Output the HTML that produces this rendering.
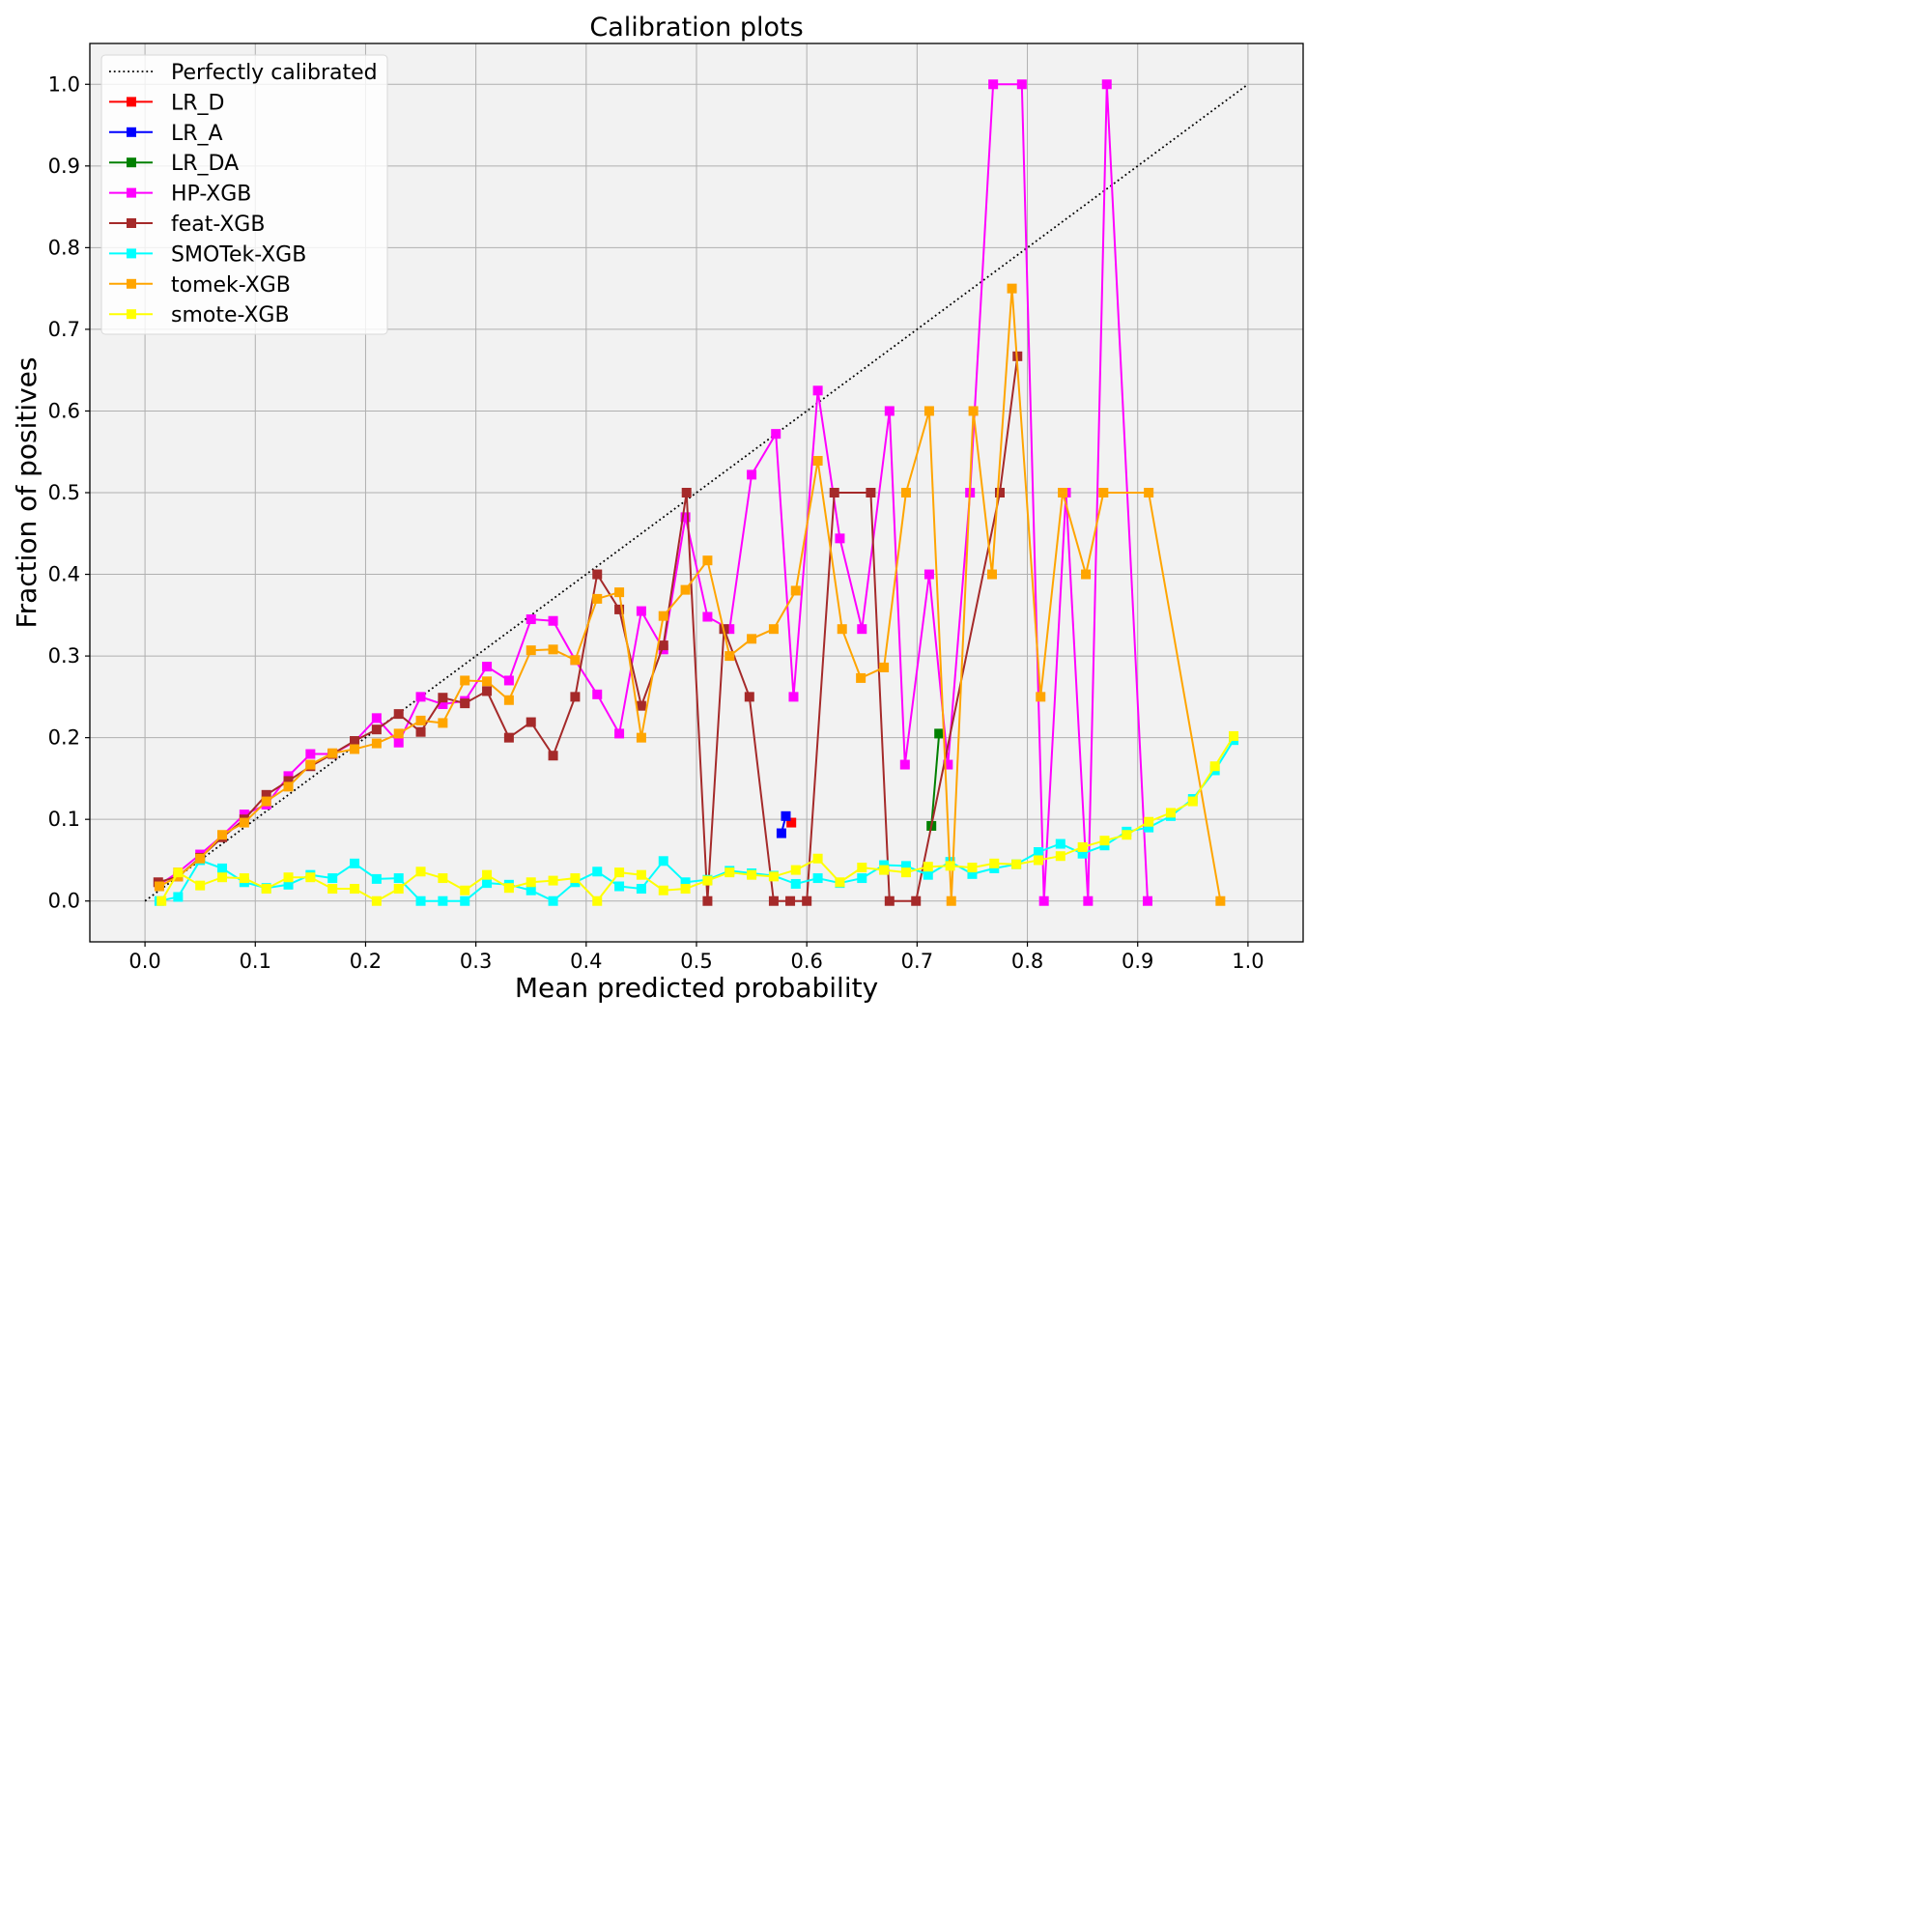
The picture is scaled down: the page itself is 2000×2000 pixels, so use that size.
<!DOCTYPE html>
<html><head><meta charset="utf-8"><style>
html,body{margin:0;padding:0;background:#fff;}
svg{display:block;font-family:"DejaVu Sans","Liberation Sans",sans-serif;}
</style></head><body>
<svg id="chart" width="2000" height="2000" viewBox="0 0 2000 2000" xmlns="http://www.w3.org/2000/svg">
<rect x="0" y="0" width="2000" height="2000" fill="#fff"/>
<rect x="93" y="45" width="1256" height="930" fill="#f2f2f2"/>
<g id="grid"></g>
<g id="series"></g>
<rect x="93" y="45" width="1256" height="930" fill="none" stroke="#000" stroke-width="1.3"/>
<g id="ticks"></g>
<text x="721" y="37" font-size="27" text-anchor="middle">Calibration plots</text>
<text x="721" y="1032" font-size="28" text-anchor="middle">Mean predicted probability</text>
<text x="37" y="510" font-size="28" text-anchor="middle" transform="rotate(-90 37 510)">Fraction of positives</text>
<g id="legend"></g>
</svg>
<script>
const xTicks = [0,0.1,0.2,0.3,0.4,0.5,0.6,0.7,0.8,0.9,1.0];
const yTicks = [0,0.1,0.2,0.3,0.4,0.5,0.6,0.7,0.8,0.9,1.0];
const lrdX = [0.586];
const lrdY = [0.096];
const lraX = [0.577,0.581];
const lraY = [0.083,0.104];
const lrdaX = [0.713,0.720];
const lrdaY = [0.092,0.205];
const hpX = [0.013,0.03,0.05,0.07,0.09,0.11,0.13,0.15,0.17,0.19,0.21,0.23,0.25,0.27,0.29,0.31,0.33,0.35,0.37,0.39,0.41,0.43,0.45,0.47,0.49,0.51,0.53,0.55,0.572,0.588,0.61,0.63,0.65,0.675,0.689,0.711,0.728,0.748,0.769,0.795,0.815,0.835,0.855,0.872,0.909];
const hpY = [0.02,0.035,0.057,0.08,0.106,0.118,0.153,0.18,0.18,0.195,0.224,0.194,0.25,0.241,0.245,0.287,0.27,0.345,0.343,0.295,0.253,0.205,0.355,0.308,0.47,0.348,0.333,0.522,0.572,0.25,0.625,0.444,0.333,0.6,0.167,0.4,0.167,0.5,1.0,1.0,0.0,0.5,0.0,1.0,0.0];
const featX = [0.012,0.03,0.05,0.07,0.09,0.11,0.13,0.15,0.17,0.19,0.21,0.23,0.25,0.27,0.29,0.31,0.33,0.35,0.37,0.39,0.41,0.43,0.45,0.47,0.491,0.51,0.525,0.548,0.57,0.585,0.6,0.625,0.658,0.675,0.699,0.775,0.791];
const featY = [0.023,0.03,0.053,0.078,0.1,0.13,0.147,0.165,0.18,0.196,0.21,0.229,0.207,0.249,0.242,0.257,0.2,0.219,0.178,0.25,0.4,0.357,0.239,0.313,0.5,0.0,0.333,0.25,0.0,0.0,0.0,0.5,0.5,0.0,0.0,0.5,0.667];
const smotekX = [0.013,0.03,0.05,0.07,0.09,0.11,0.13,0.15,0.17,0.19,0.21,0.23,0.25,0.27,0.29,0.31,0.33,0.35,0.37,0.39,0.41,0.43,0.45,0.47,0.49,0.51,0.53,0.55,0.57,0.59,0.61,0.63,0.65,0.67,0.69,0.71,0.73,0.75,0.77,0.79,0.81,0.83,0.85,0.87,0.89,0.91,0.93,0.95,0.97,0.987];
const smotekY = [0.0,0.005,0.05,0.04,0.023,0.016,0.02,0.032,0.028,0.046,0.027,0.028,0.0,0.0,0.0,0.022,0.02,0.013,0.0,0.023,0.036,0.018,0.015,0.049,0.023,0.026,0.037,0.034,0.031,0.021,0.028,0.022,0.028,0.044,0.043,0.032,0.048,0.033,0.04,0.045,0.06,0.07,0.058,0.068,0.085,0.09,0.104,0.125,0.16,0.197];
const tomekX = [0.013,0.03,0.05,0.07,0.09,0.11,0.13,0.15,0.17,0.19,0.21,0.23,0.25,0.27,0.29,0.31,0.33,0.35,0.37,0.39,0.41,0.43,0.45,0.47,0.49,0.51,0.53,0.55,0.57,0.59,0.61,0.632,0.649,0.67,0.69,0.711,0.731,0.751,0.768,0.786,0.812,0.832,0.853,0.869,0.91,0.975];
const tomekY = [0.018,0.03,0.052,0.081,0.096,0.122,0.14,0.167,0.181,0.186,0.193,0.205,0.221,0.218,0.27,0.269,0.246,0.307,0.308,0.295,0.37,0.378,0.2,0.349,0.381,0.417,0.3,0.321,0.333,0.38,0.539,0.333,0.273,0.286,0.5,0.6,0.0,0.6,0.4,0.75,0.25,0.5,0.4,0.5,0.5,0.0];
const smoteX = [0.015,0.03,0.05,0.07,0.09,0.11,0.13,0.15,0.17,0.19,0.21,0.23,0.25,0.27,0.29,0.31,0.33,0.35,0.37,0.39,0.41,0.43,0.45,0.47,0.49,0.51,0.53,0.55,0.57,0.59,0.61,0.63,0.65,0.67,0.69,0.71,0.73,0.75,0.77,0.79,0.81,0.83,0.85,0.87,0.89,0.91,0.93,0.95,0.97,0.987];
const smoteY = [0.0,0.035,0.019,0.029,0.028,0.015,0.029,0.029,0.015,0.015,0.0,0.015,0.036,0.028,0.013,0.032,0.016,0.023,0.025,0.028,0.0,0.035,0.032,0.013,0.015,0.025,0.035,0.032,0.03,0.038,0.052,0.023,0.041,0.038,0.035,0.042,0.043,0.041,0.046,0.045,0.05,0.055,0.066,0.074,0.081,0.097,0.108,0.122,0.165,0.202];
const seriesNames = ["LR_D","LR_A","LR_DA","HP-XGB","feat-XGB","SMOTek-XGB","tomek-XGB","smote-XGB"];
const seriesColors = ["#ff0000","#0000ff","#008000","#ff00ff","#a52a2a","#00ffff","#ffa500","#ffff00"];
const seriesXs = [lrdX,lraX,lrdaX,hpX,featX,smotekX,tomekX,smoteX];
const seriesYs = [lrdY,lraY,lrdaY,hpY,featY,smotekY,tomekY,smoteY];

const NS = "http://www.w3.org/2000/svg";
const L=93,R=1349,T=45,B=975;
function sx(v){return L+(v+0.05)/1.1*(R-L);}
function sy(v){return B-(v+0.05)/1.1*(B-T);}
function mk(tag,attrs,parent){const e=document.createElementNS(NS,tag);for(const k in attrs)e.setAttribute(k,attrs[k]);parent.appendChild(e);return e;}
const grid=document.getElementById('grid'),ticks=document.getElementById('ticks'),ser=document.getElementById('series'),leg=document.getElementById('legend');
xTicks.forEach(t=>{
  const g=mk('line',{x1:sx(t),x2:sx(t),y1:T,y2:B,stroke:'#b0b0b0','stroke-width':1},grid);
  
  
  mk('line',{x1:sx(t),x2:sx(t),y1:B,y2:B+5,stroke:'#000','stroke-width':1.2},ticks);
  const tx=mk('text',{x:sx(t),y:B+27,'font-size':21,'text-anchor':'middle'},ticks);
  tx.textContent=t.toFixed(1);
  
  
});
yTicks.forEach(t=>{
  const g=mk('line',{x1:L,x2:R,y1:sy(t),y2:sy(t),stroke:'#b0b0b0','stroke-width':1},grid);
  
  
  mk('line',{x1:L-5,x2:L,y1:sy(t),y2:sy(t),stroke:'#000','stroke-width':1.2},ticks);
  const tx=mk('text',{x:L-10,y:sy(t)+7,'font-size':21,'text-anchor':'end'},ticks);
  tx.textContent=t.toFixed(1);
  
  
});
const diag=mk('line',{x1:sx(0),y1:sy(0),x2:sx(1),y2:sy(1),stroke:'#000','stroke-width':1.8,'stroke-dasharray':'1.8 3'},ser);


seriesNames.forEach((n,i)=>{
  const g=mk('g',{},ser);
  
  
  const xs=seriesXs[i],ys=seriesYs[i];
  const pts=xs.map((x,j)=>sx(x).toFixed(1)+','+sy(ys[j]).toFixed(1)).join(' ');
  const pl=mk('polyline',{points:pts,fill:'none',stroke:seriesColors[i],'stroke-width':2},g);
  
  
  xs.forEach((x,j)=>{
    const m=mk('rect',{x:sx(x)-5,y:sy(ys[j])-5,width:10,height:10,fill:seriesColors[i]},g);
    
    
  });
});
// legend
const box=mk('rect',{x:105,y:57,width:296,height:289,rx:4,fill:'#fff','fill-opacity':0.8,stroke:'#d8d8d8','stroke-width':1},leg);


const e0=mk('g',{},leg);


mk('line',{x1:113,x2:158,y1:74,y2:74,stroke:'#000','stroke-width':1.8,'stroke-dasharray':'1.8 3'},e0);
const t0=mk('text',{x:177,y:82,'font-size':22},e0);
t0.textContent='Perfectly calibrated';
seriesNames.forEach((n,i)=>{
  const y=74+31.4*(i+1);
  const g=mk('g',{},leg);
  
  
  mk('line',{x1:113,x2:158,y1:y,y2:y,stroke:seriesColors[i],'stroke-width':2},g);
  mk('rect',{x:131,y:y-5,width:10,height:10,fill:seriesColors[i]},g);
  const t=mk('text',{x:177,y:y+8,'font-size':22},g);
  t.textContent=n;
});
</script>
</body></html>
